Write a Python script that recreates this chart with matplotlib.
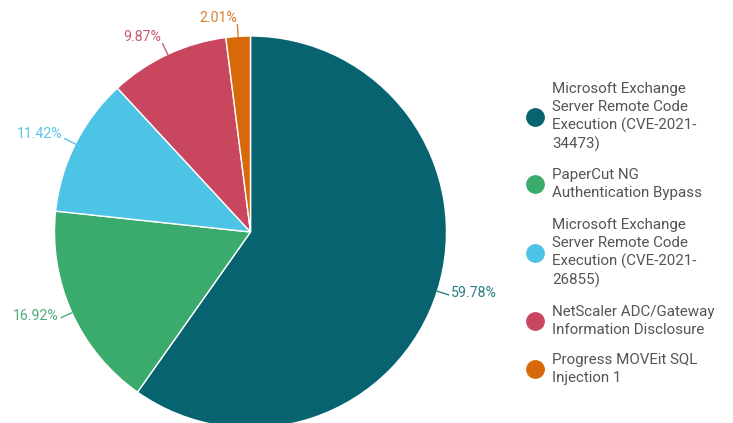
import numpy as np
import matplotlib.pyplot as plt
from matplotlib.lines import Line2D

plt.rcParams['font.family'] = ['Roboto', 'DejaVu Sans']

labels = ['Microsoft Exchange\nServer Remote Code\nExecution (CVE-2021-\n34473)',
          'PaperCut NG\nAuthentication Bypass',
          'Microsoft Exchange\nServer Remote Code\nExecution (CVE-2021-\n26855)',
          'NetScaler ADC/Gateway\nInformation Disclosure',
          'Progress MOVEit SQL\nInjection 1']
values = [59.78, 16.92, 11.42, 9.87, 2.01]
colors = ['#07636f', '#3aaa6d', '#4dc3e6', '#c8475e', '#d8690a']
text_colors = ['#2b7c86', '#4fae78', '#5cc4e6', '#cc5a70', '#d9802f']

W, H = 733, 423
fig = plt.figure(figsize=(W / 100, H / 100), dpi=100)
ax = fig.add_axes([0, 0, 1, 1])

cx, cy, r = 250.5, H - 232, 196
wedges, _ = ax.pie(values, colors=colors, startangle=90, counterclock=False,
                   center=(cx, cy), radius=r, frame=True,
                   wedgeprops=dict(edgecolor='white', linewidth=1))
ax.set_xlim(0, W)
ax.set_ylim(0, H)
ax.set_aspect('equal')
ax.axis('off')

# outside labels with short leader lines
for w, v, tc in zip(wedges, values, text_colors):
    ang = np.deg2rad((w.theta1 + w.theta2) / 2)
    c, s = np.cos(ang), np.sin(ang)
    x0, y0 = cx + r * c, cy + r * s
    x1, y1 = cx + r * 1.06 * c, cy + r * 1.06 * s
    xt, yt = cx + r * 1.075 * c, cy + r * 1.08 * s + 3
    ax.plot([x0, x1], [y0, y1], color=tc, lw=1)
    ax.text(xt, yt, f'{v:.2f}%', color=tc, fontsize=10.2,
            ha='left' if c > 0 else 'right', va='center')

# legend
leg_y = [117, 184, 253, 321, 369]
for lab, col, yy in zip(labels, colors, leg_y):
    ax.add_line(Line2D([535], [H - yy], marker='o', markersize=12.5,
                       color=col, linestyle='none'))
    ax.text(552, H - yy, lab, color='#555555', fontsize=10.9, ha='left',
            va='center', linespacing=1.3)

fig.savefig('out.png', dpi=100)
